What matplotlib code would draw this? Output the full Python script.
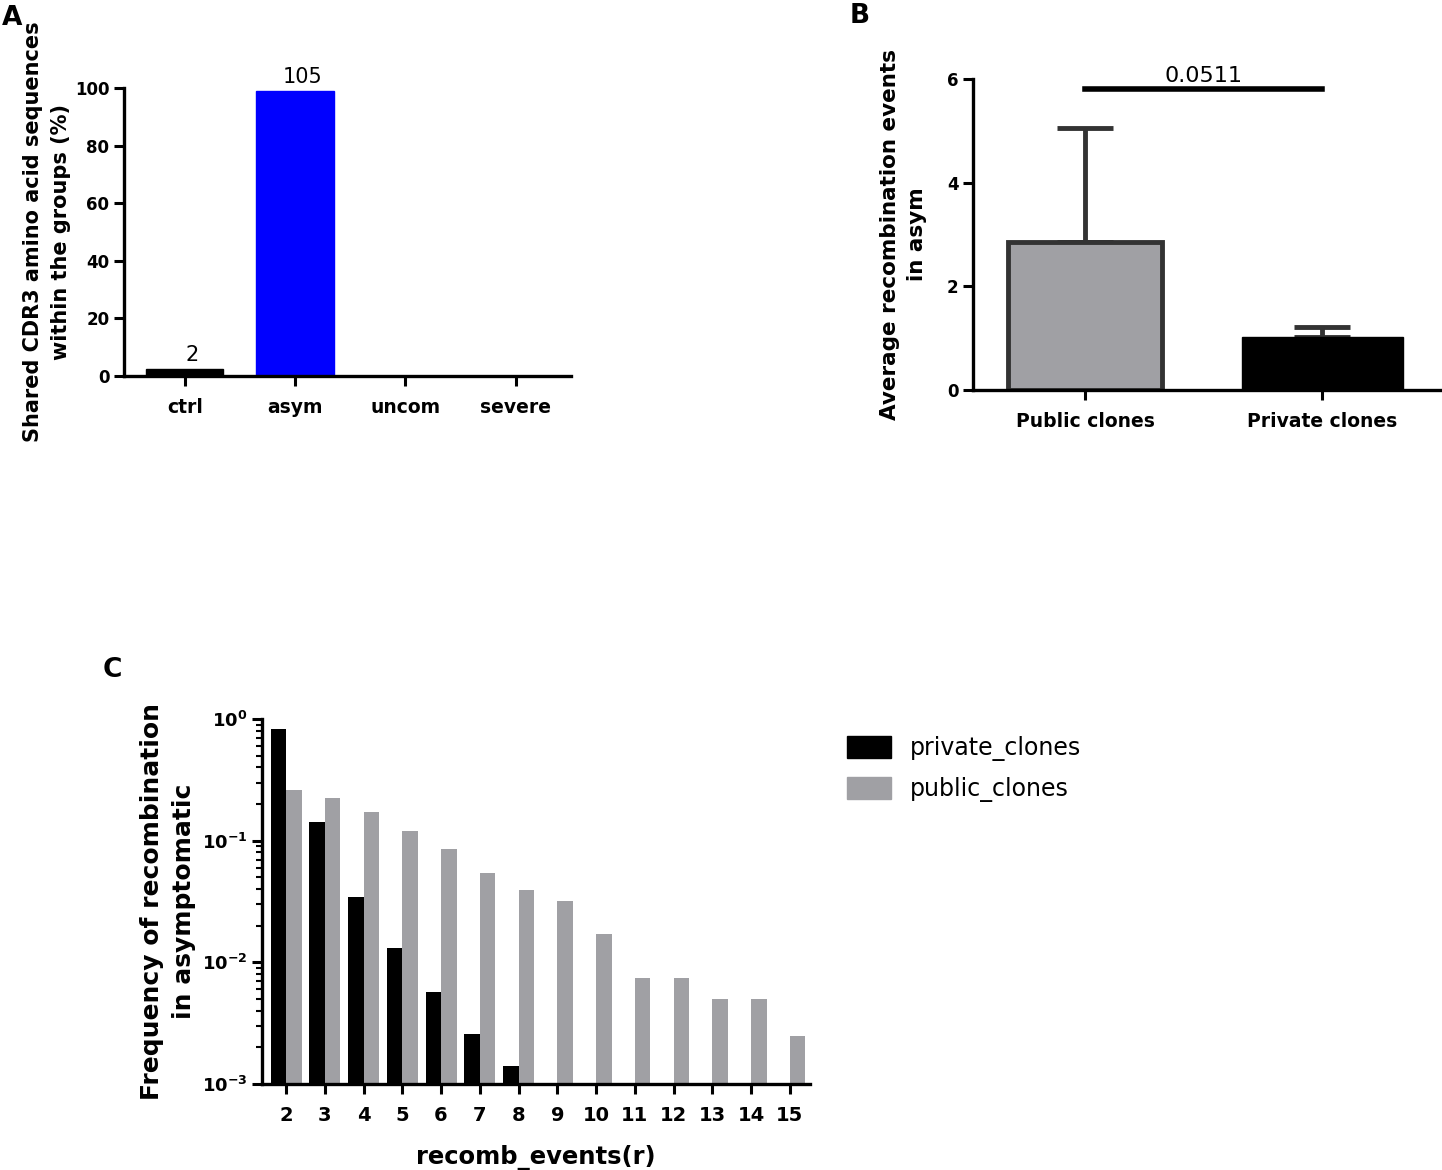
import matplotlib
matplotlib.use("Agg")
import matplotlib.pyplot as plt
from matplotlib.patches import Patch
import numpy as np

plt.rcParams['font.family'] = ['DejaVu Sans']

# ---- Panel A data ----
groups = ["ctrl", "asym", "uncom", "severe"]
shared_pct = [2.4, 98.8, 0, 0]
shared_counts = ["2", "105", "", ""]
group_colors = ["black", "#0000ff", "black", "black"]

# ---- Panel B data ----
clone_types = ["Public clones", "Private clones"]
avg_recomb = [2.86, 1.03]
avg_recomb_err = [2.19, 0.19]
p_value = "0.0511"

# ---- Panel C data ----
recomb_events = list(range(2, 16))
private_freq = [0.83, 0.143, 0.0344, 0.0131, 0.0057, 0.00258, 0.00141,
                np.nan, np.nan, np.nan, np.nan, np.nan, np.nan, np.nan]
public_freq = [0.262, 0.226, 0.173, 0.119, 0.0862, 0.0545, 0.0395,
               0.0322, 0.0172, 0.0075, 0.0075, 0.0050, 0.0050, 0.0025]

fig = plt.figure(figsize=(14.42, 11.7), dpi=100)

spine_lw = 2.4

def style(ax, labelsize=12):
    for s in ["top", "right"]:
        ax.spines[s].set_visible(False)
    for s in ["left", "bottom"]:
        ax.spines[s].set_linewidth(spine_lw)
    ax.tick_params(axis="both", which="major", direction="out", length=7,
                   width=2.2, labelsize=labelsize)
    for lab in ax.get_xticklabels() + ax.get_yticklabels():
        lab.set_fontweight("bold")

# ---------- Panel A ----------
axA = fig.add_axes([124/1442, 1-376/1170, (571-124)/1442, (376-88)/1170])
xA = np.arange(len(groups))
axA.bar(xA, shared_pct, width=0.7, color=group_colors, edgecolor=group_colors)
axA.set_xlim(-0.55, 3.5)
axA.set_ylim(0, 100)
axA.set_yticks([0, 20, 40, 60, 80, 100])
axA.set_xticks(xA)
axA.set_xticklabels(groups)
style(axA)
axA.tick_params(axis="x", pad=9, labelsize=13.5)
for xi, v, c in zip(xA, shared_pct, shared_counts):
    if c:
        axA.text(xi + 0.07, v + 1.5, c, ha="center", va="bottom", fontsize=15,
                 clip_on=False)
axA.set_ylabel("Shared CDR3 amino acid sequences\nwithin the groups (%)",
               fontsize=15, fontweight="bold", labelpad=3, linespacing=1.5)
fig.text(2/1442, 1-18/1170, "A", fontsize=19, fontweight="bold", va="center")

# ---------- Panel B ----------
axB = fig.add_axes([973/1442, 1-390/1170, (1442-973)/1442, (390-79)/1170])
xB = np.arange(len(clone_types))
axB.bar(xB[0], avg_recomb[0], width=0.65, color="#a0a0a4", edgecolor="#333333",
        linewidth=3.5, zorder=2)
axB.bar(xB[1], avg_recomb[1], width=0.68, color="black", edgecolor="black",
        linewidth=1, zorder=2)
for xi, v, e in zip(xB, avg_recomb, avg_recomb_err):
    axB.errorbar(xi, v, yerr=[[0], [e]], color="#333333", elinewidth=3.5,
                 capsize=20, capthick=3.5, zorder=1)
axB.set_xlim(-0.473, 1.506)
axB.set_ylim(0, 6)
axB.set_yticks([0, 2, 4, 6])
axB.set_xticks(xB)
axB.set_xticklabels(clone_types)
style(axB)
axB.tick_params(axis="x", pad=9, labelsize=13.5)
axB.plot([xB[0], xB[1]], [5.81, 5.81], color="black", lw=4, clip_on=False)
axB.text(0.5, 5.87, p_value, ha="center", va="bottom", fontsize=16)
axB.set_ylabel("Average recombination events\nin asym", fontsize=15.5,
               fontweight="bold", labelpad=14, linespacing=1.45)
fig.text(850/1442, 1-16/1170, "B", fontsize=19, fontweight="bold", va="center")

# ---------- Panel C ----------
axC = fig.add_axes([262/1442, 1-1084/1170, (810-262)/1442, (1084-719)/1170])
xC = np.array(recomb_events, dtype=float)
bw = 0.4
axC.bar(xC - bw/2, private_freq, width=bw, color="black", label="private_clones")
axC.bar(xC + bw/2, public_freq, width=bw, color="#a0a0a4", label="public_clones")
axC.set_yscale("log")
axC.set_ylim(1e-3, 1)
axC.set_xlim(1.38, 15.52)
axC.set_xticks(recomb_events)
axC.set_xticklabels([str(r) for r in recomb_events])
axC.set_yticks([1e-3, 1e-2, 1e-1, 1e0])
axC.set_yticklabels([r"$\mathbf{10^{-3}}$", r"$\mathbf{10^{-2}}$",
                     r"$\mathbf{10^{-1}}$", r"$\mathbf{10^{0}}$"])
style(axC, labelsize=14)
axC.tick_params(axis="y", labelsize=13)
axC.tick_params(axis="y", which="minor", direction="out", length=4, width=1.5)
axC.tick_params(axis="x", pad=9)
axC.set_xlabel("recomb_events(r)", fontsize=17.5, fontweight="bold", labelpad=14)
axC.set_ylabel("Frequency of recombination\nin asymptomatic", fontsize=18,
               fontweight="bold", labelpad=4, linespacing=1.45)
fig.text(103/1442, 1-670/1170, "C", fontsize=19, fontweight="bold", va="center")

handles = [Patch(facecolor="black", edgecolor="black", label="private_clones"),
           Patch(facecolor="#a0a0a4", edgecolor="#a0a0a4", label="public_clones")]
fig.legend(handles=handles, loc="upper left",
           bbox_to_anchor=(826/1442, 1-715/1170), frameon=False, fontsize=17,
           handlelength=1.85, handleheight=1.05, labelspacing=0.65,
           handletextpad=0.8)

fig.savefig("out.png", dpi=100)
